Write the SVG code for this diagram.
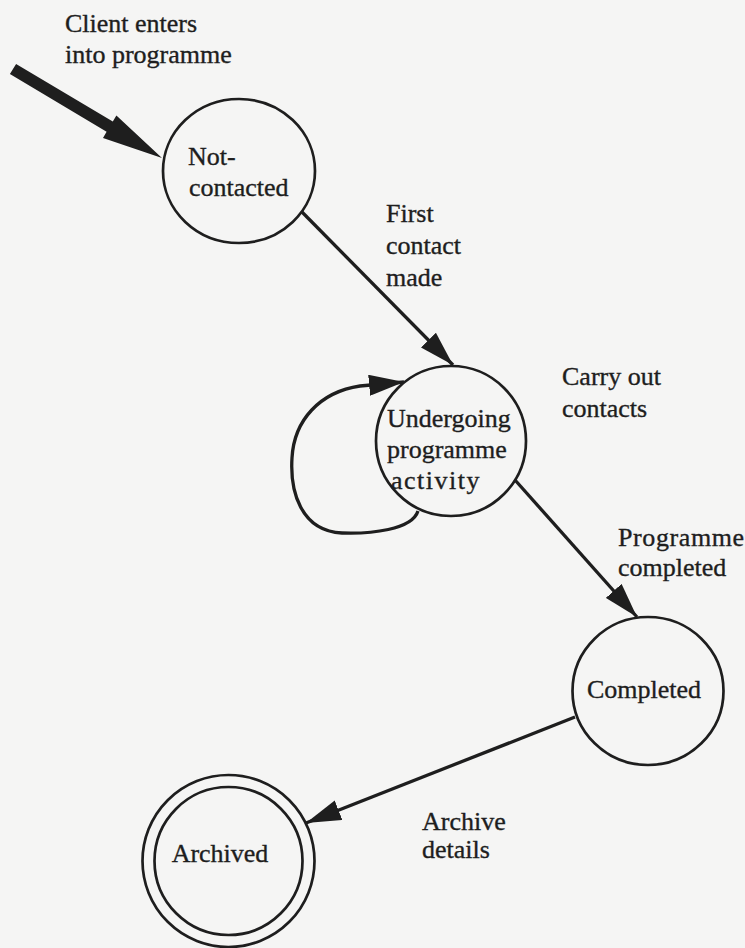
<svg xmlns="http://www.w3.org/2000/svg" width="745" height="948" viewBox="0 0 745 948">
  <style>
    text { font-family: "Liberation Serif", "Times New Roman", serif; font-size: 26px; fill: #1e1e1e; stroke: #1e1e1e; stroke-width: 0.35; }
    .state { fill: none; stroke: #1e1e1e; stroke-width: 2.7; }
    .edge { fill: none; stroke: #1e1e1e; stroke-width: 3.3; }
  </style>
  <defs>
    <marker id="head" viewBox="0 0 35 21" refX="35" refY="10.5" markerWidth="35" markerHeight="21" markerUnits="userSpaceOnUse" orient="auto">
      <path d="M0,0 L35,10.5 L0,21 Z" fill="#1e1e1e"/>
    </marker>
  </defs>

  <!-- paper -->
  <rect x="0" y="0" width="745" height="948" fill="#f5f5f4"/>

  <!-- entry label -->
  <g id="entry-label">
    <text x="65" y="32">Client enters</text>
    <text x="65" y="63">into programme</text>
  </g>

  <!-- connectors -->
  <g id="connectors">
    <!-- heavy entry arrow -->
    <polygon points="16.1,63.9 112.8,121.6 116.4,115.5 162,158 103,137.9 106.6,131.8 9.9,74.1" fill="#1e1e1e"/>
    <!-- first contact made -->
    <path class="edge" d="M302,212 L453,365" marker-end="url(#head)"/>
    <!-- carry out contacts (self loop) -->
    <path class="edge" d="M418,511 C412,530 370,534 342,533 C300,531 290,490 292,458 C294,420 320,392 360,386 L404,382" marker-end="url(#head)"/>
    <!-- programme completed -->
    <path class="edge" d="M515,480 L637,617" marker-end="url(#head)"/>
    <!-- archive details -->
    <path class="edge" d="M575,717 L306,823" marker-end="url(#head)"/>
  </g>

  <!-- states -->
  <g id="not-contacted">
    <ellipse class="state" cx="239" cy="171" rx="76" ry="72"/>
    <text x="188" y="165">Not-</text>
    <text x="189" y="196">contacted</text>
  </g>

  <g id="undergoing">
    <circle class="state" cx="451" cy="441" r="75"/>
    <text x="387" y="427">Undergoing</text>
    <text x="387" y="458">programme</text>
    <text x="391" y="489" letter-spacing="1.5">activity</text>
  </g>

  <g id="completed">
    <ellipse class="state" cx="648" cy="691" rx="75.5" ry="74"/>
    <text x="644" y="698" text-anchor="middle">Completed</text>
  </g>

  <g id="archived">
    <circle class="state" cx="228.5" cy="861" r="86"/>
    <circle class="state" cx="228.5" cy="861" r="74"/>
    <text x="220" y="862" text-anchor="middle">Archived</text>
  </g>

  <!-- transition labels -->
  <g id="labels">
    <text x="386" y="222">First</text>
    <text x="386" y="254">contact</text>
    <text x="386" y="286">made</text>
    <text x="562" y="385">Carry out</text>
    <text x="562" y="417">contacts</text>
    <text x="618" y="546" letter-spacing="0.6">Programme</text>
    <text x="618" y="576">completed</text>
    <text x="422" y="830">Archive</text>
    <text x="422" y="858">details</text>
  </g>
</svg>
